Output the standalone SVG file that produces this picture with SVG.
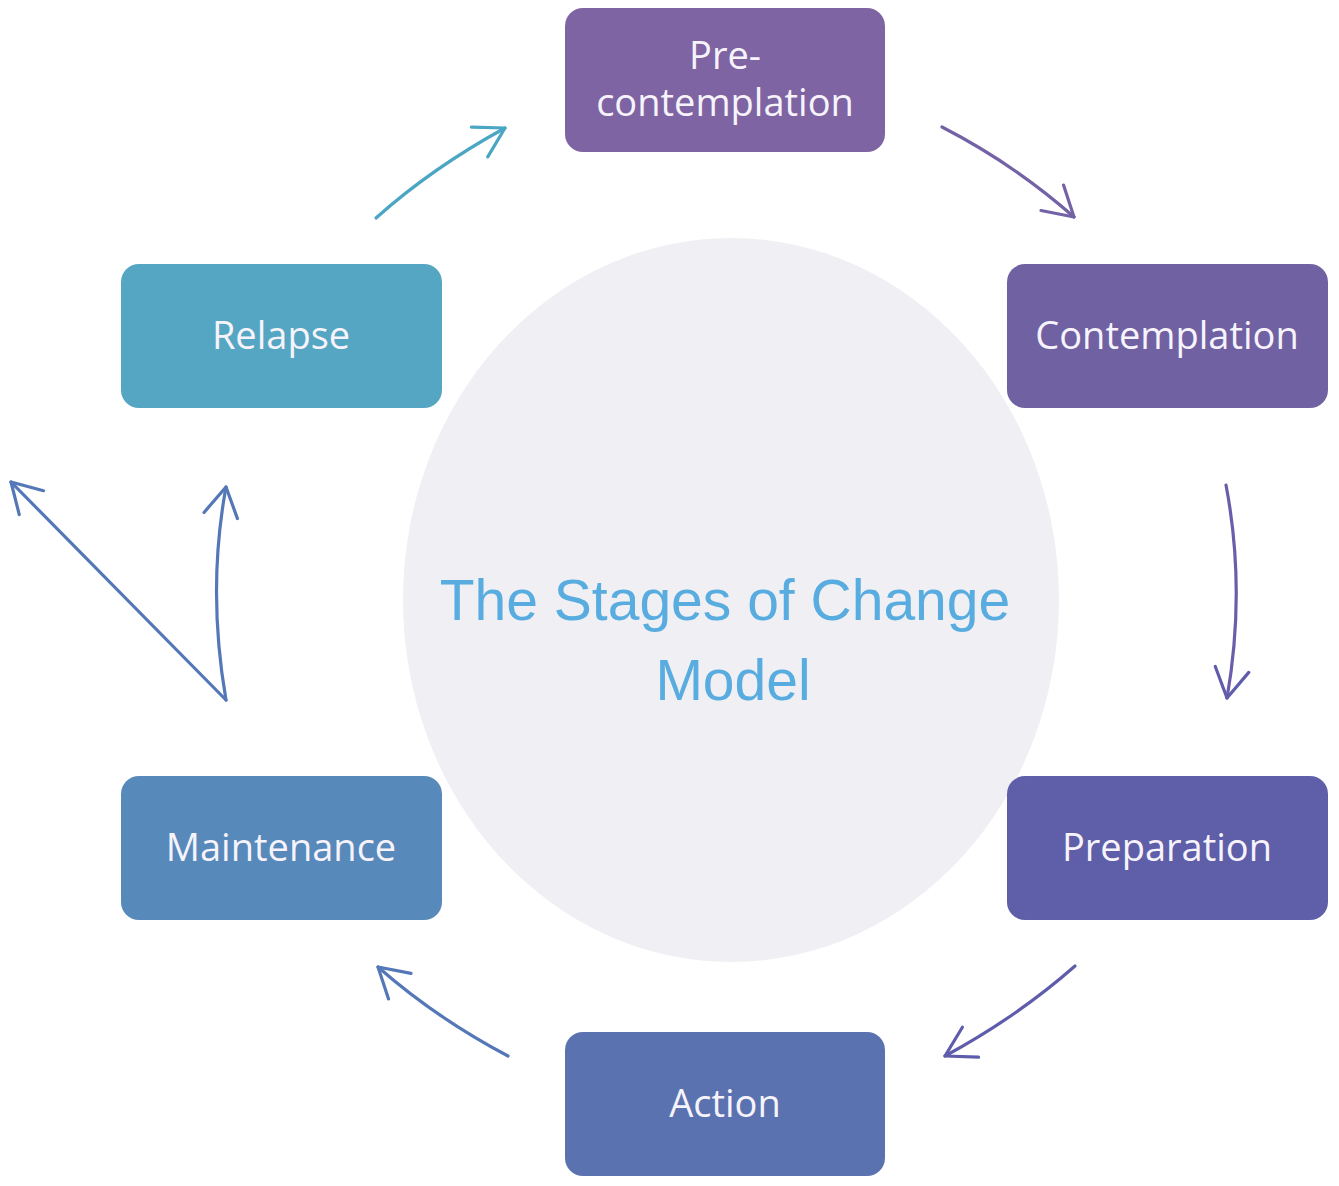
<svg xmlns="http://www.w3.org/2000/svg" width="1339" height="1186" viewBox="0 0 1339 1186">
<style>
.box{stroke:none}
.lbl{font-family:"Open Sans","Noto Sans","Liberation Sans",sans-serif;font-size:38px;fill:#f6f3fa;text-anchor:middle}
.title{font-family:"Liberation Sans",Arial,sans-serif;font-size:57px;fill:#58acdf;text-anchor:middle}
.arr{fill:none;stroke-width:3.2;stroke-linecap:round}
</style>
<defs>
<marker id="mTeal" viewBox="0 0 34 38" refX="31" refY="19" markerWidth="34" markerHeight="38" markerUnits="userSpaceOnUse" orient="auto"><path d="M2,2 L31,19 L2,36" fill="none" stroke="#4ba6c3" stroke-width="3.2" stroke-linecap="round" stroke-linejoin="round"/></marker>
<marker id="mPurple" viewBox="0 0 34 38" refX="31" refY="19" markerWidth="34" markerHeight="38" markerUnits="userSpaceOnUse" orient="auto"><path d="M2,2 L31,19 L2,36" fill="none" stroke="#7462a6" stroke-width="3.2" stroke-linecap="round" stroke-linejoin="round"/></marker>
<marker id="mIndigo" viewBox="0 0 34 38" refX="31" refY="19" markerWidth="34" markerHeight="38" markerUnits="userSpaceOnUse" orient="auto"><path d="M2,2 L31,19 L2,36" fill="none" stroke="#5f5dab" stroke-width="3.2" stroke-linecap="round" stroke-linejoin="round"/></marker>
<marker id="mBlue" viewBox="0 0 34 38" refX="31" refY="19" markerWidth="34" markerHeight="38" markerUnits="userSpaceOnUse" orient="auto"><path d="M2,2 L31,19 L2,36" fill="none" stroke="#5478b7" stroke-width="3.2" stroke-linecap="round" stroke-linejoin="round"/></marker>
</defs>
<rect width="1339" height="1186" fill="#ffffff"/>
<g id="center">
<ellipse cx="731" cy="600" rx="328" ry="362" fill="#f0f0f4"/>
<text class="title" x="725" y="620">The Stages of Change</text>
<text class="title" x="733" y="700">Model</text>
</g>
<g id="precontemplation">
<rect class="box" x="565" y="8" width="320" height="144" rx="18" fill="#7f64a3"/>
<text class="lbl" x="725" y="69">Pre-</text>
<text class="lbl" x="725" y="116">contemplation</text>
</g>
<g id="contemplation">
<rect class="box" x="1007" y="264" width="321" height="144" rx="18" fill="#7061a3"/>
<text class="lbl" x="1167" y="349">Contemplation</text>
</g>
<g id="preparation">
<rect class="box" x="1007" y="776" width="321" height="144" rx="18" fill="#5f5ea8"/>
<text class="lbl" x="1167" y="861">Preparation</text>
</g>
<g id="action">
<rect class="box" x="565" y="1032" width="320" height="144" rx="18" fill="#5b72b0"/>
<text class="lbl" x="725" y="1117">Action</text>
</g>
<g id="maintenance">
<rect class="box" x="121" y="776" width="321" height="144" rx="18" fill="#5889bb"/>
<text class="lbl" x="281" y="861">Maintenance</text>
</g>
<g id="relapse">
<rect class="box" x="121" y="264" width="321" height="144" rx="18" fill="#55a6c2"/>
<text class="lbl" x="281" y="349">Relapse</text>
</g>
<g id="connectors">
<path class="arr" d="M376,218 Q432,168 505,128" stroke="#4ba6c3" marker-end="url(#mTeal)"/>
<path class="arr" d="M942,127 Q1014,164 1074,217" stroke="#7462a6" marker-end="url(#mPurple)"/>
<path class="arr" d="M1226,485 Q1246,590 1227,698" stroke="#6a5eaa" marker-end="url(#mIndigo)"/>
<path class="arr" d="M1075,966 Q1017,1017 945,1056" stroke="#5f5dab" marker-end="url(#mIndigo)"/>
<path class="arr" d="M508,1056 Q436,1018 378,967" stroke="#5478b7" marker-end="url(#mBlue)"/>
<path class="arr" d="M226,700 Q207,590 226,487" stroke="#5478b7" marker-end="url(#mBlue)"/>
<path class="arr" d="M226,700 L11,482" stroke="#5478b7" marker-end="url(#mBlue)"/>
</g>
</svg>
